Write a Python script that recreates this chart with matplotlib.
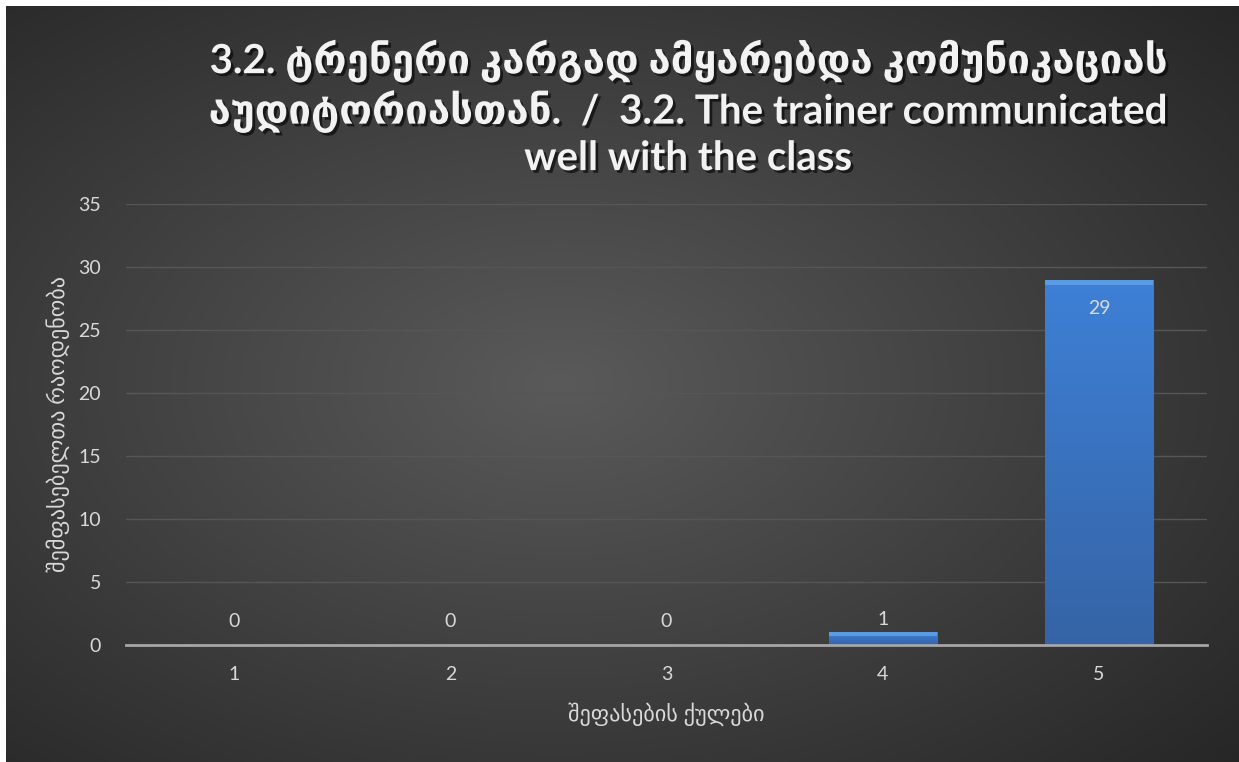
import numpy as np
import matplotlib
matplotlib.use("Agg")
import matplotlib.pyplot as plt
import matplotlib.patheffects as pe
from matplotlib.colors import LinearSegmentedColormap

categories = ["1", "2", "3", "4", "5"]
values = [0, 0, 0, 1, 29]
yticks = [0, 5, 10, 15, 20, 25, 30, 35]
title = ("3.2. ტრენერი კარგად ამყარებდა კომუნიკაციას\n"
         "აუდიტორიასთან.  /  3.2. The trainer communicated\n"
         "well with the class")
xlabel = "შეფასების ქულები"
ylabel = "შემფასებელთა რაოდენობა"

FONT = ["Lato", "DejaVu Sans"]
W, H = 1239, 762
fig = plt.figure(figsize=(W / 100, H / 100), dpi=100)
fig.patch.set_facecolor("white")

# background radial gradient
bg = fig.add_axes([6 / W, 0, 1 - 6 / W, 1 - 6 / H])
bg.set_axis_off()
yy, xx = np.mgrid[0:1:400j, 0:1:640j]
r = np.sqrt(((xx - 0.45) / 0.75) ** 2 + ((yy - 0.5) / 0.75) ** 2)
r = np.clip(r, 0, 1)
c0 = np.array([0x5a, 0x5a, 0x5a]) / 255
c1 = np.array([0x26, 0x26, 0x26]) / 255
img = c0[None, None, :] * (1 - r[..., None]) + c1[None, None, :] * r[..., None]
bg.imshow(img, aspect="auto", extent=[0, 1, 0, 1], origin="lower")
bg.set_xlim(0, 1)
bg.set_ylim(0, 1)

ax = fig.add_axes([126 / W, (H - 645) / H, (1207 - 126) / W, (645 - 204) / H])
ax.patch.set_alpha(0)
x = np.arange(len(categories))
bars = ax.bar(x, values, width=0.5, color="#3a75c4", edgecolor="#24446e",
              linewidth=0.8, zorder=3)
grad = np.linspace(0, 1, 100)[:, None]
cmap = LinearSegmentedColormap.from_list("b", ["#3564a6", "#3e80d6"])
for b in bars:
    if b.get_height() > 0:
        x0, w, h = b.get_x(), b.get_width(), b.get_height()
        im = ax.imshow(grad, cmap=cmap, aspect="auto", origin="lower",
                       extent=[x0, x0 + w, 0, h], zorder=3.5)
        im.set_clip_path(b)
        bh = min(0.4, h * 0.3)
        ax.bar(x0 + w / 2, bh, width=w, bottom=h - bh,
               color="#5a9be6", linewidth=0, zorder=3.6)

ax.set_xlim(-0.5, len(categories) - 0.5)
ax.set_ylim(0, 35)
ax.set_yticks(yticks)
ax.set_xticks(x)
ax.set_xticklabels(categories)
ax.grid(axis="y", color="#565656", linewidth=1, zorder=0)
ax.set_axisbelow(True)
for s in ["top", "right", "left"]:
    ax.spines[s].set_visible(False)
ax.spines["bottom"].set_color("#a6a6a6")
ax.spines["bottom"].set_linewidth(2)
ax.spines["bottom"].set_zorder(4)
ax.tick_params(axis="both", length=0, colors="#d9d9d9", labelsize=14)
ax.tick_params(axis="x", pad=15)
ax.tick_params(axis="y", pad=18)
for t in ax.get_xticklabels() + ax.get_yticklabels():
    t.set_family(FONT)

for xi, v in zip(x, values):
    if v > 5:
        ax.text(xi, v - 2.3, str(v), ha="center", va="center", color="#d9d9d9",
                fontsize=14, family=FONT, zorder=5)
    else:
        ax.text(xi, max(v + 1.0, 1.9), str(v), ha="center", va="center", color="#d9d9d9",
                fontsize=14, family=FONT, zorder=5)

ax.set_xlabel(xlabel, color="#d9d9d9", fontsize=16, family=FONT, labelpad=14)
ax.set_ylabel(ylabel, color="#d9d9d9", fontsize=16, family=FONT, labelpad=6)

fig.text(688 / W, 1 - 40 / H, title, ha="center", va="top", color="#f2f2f2",
         fontsize=29, fontweight="bold", family=FONT, linespacing=1.24,
         path_effects=[pe.withSimplePatchShadow(offset=(2, -2), shadow_rgbFace="black", alpha=0.6)])

fig.savefig("out.png", dpi=100, facecolor=fig.get_facecolor())
